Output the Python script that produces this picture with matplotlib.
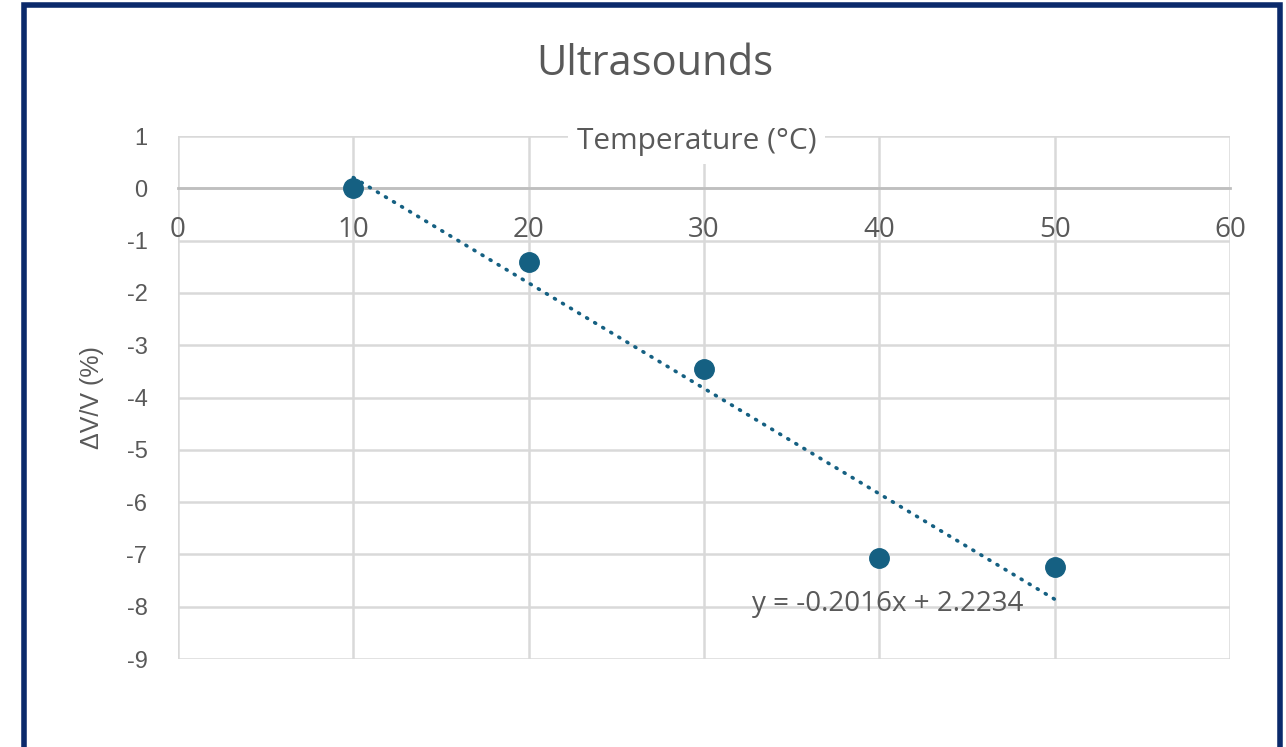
import matplotlib
matplotlib.use("Agg")
import matplotlib.pyplot as plt
import numpy as np
from matplotlib.patches import Rectangle

# data
temperature = [10, 20, 30, 40, 50]
dv_over_v = [0.0, -1.40, -3.46, -7.07, -7.25]
trend_slope = -0.2016
trend_intercept = 2.2234
x_ticks = [0, 10, 20, 30, 40, 50, 60]
y_ticks = [1, 0, -1, -2, -3, -4, -5, -6, -7, -8, -9]

POINT_COLOR = "#156082"
TEXT_COLOR = "#595959"
GRID_COLOR = "#d9d9d9"

plt.rcParams["font.family"] = ["Open Sans", "DejaVu Sans"]
plt.rcParams["axes.unicode_minus"] = False

fig = plt.figure(figsize=(12.86, 7.47), dpi=100)
ax = fig.add_axes([0.1384, 0.1178, 0.818, 0.700])

ax.set_xlim(0, 60)
ax.set_ylim(-9, 1)
ax.set_xticks(x_ticks)
ax.set_yticks(y_ticks)
ax.grid(True, color=GRID_COLOR, linewidth=1.8)
ax.set_axisbelow(True)

for side in ("top", "right", "left"):
    ax.spines[side].set_visible(False)
ax.spines["bottom"].set_position(("data", 0))
ax.spines["bottom"].set_color("#bfbfbf")
ax.spines["bottom"].set_linewidth(2)
ax.spines["bottom"].set_zorder(1)

ax.tick_params(axis="both", length=0, labelcolor=TEXT_COLOR)
ax.tick_params(axis="x", pad=20, labelsize=20)
ax.tick_params(axis="y", pad=22, labelsize=17)
for lbl in ax.get_yticklabels():
    lbl.set_family(["Liberation Sans", "DejaVu Sans"])

# trendline
xs = np.array([temperature[0], temperature[-1]])
ax.plot(xs, trend_slope * xs + trend_intercept, linestyle=(0, (0.3, 2.3)),
        color=POINT_COLOR, linewidth=2.6, dash_capstyle="round", zorder=3)
ax.plot(temperature, dv_over_v, "o", color=POINT_COLOR, markersize=14, zorder=4)

ax.text(40.5, -7.95, f"y = {trend_slope}x + {trend_intercept}", fontsize=20,
        color=TEXT_COLOR, ha="center", va="center", zorder=5)

ax.text(0.493, 0.99, "Temperature (°C)", transform=ax.transAxes, fontsize=21.5,
        color=TEXT_COLOR, ha="center", va="center", zorder=5,
        bbox=dict(facecolor="white", edgecolor="none", pad=6))

ax.set_ylabel("ΔV/V (%)", fontsize=18, color=TEXT_COLOR, labelpad=16,
              family=["Liberation Sans", "DejaVu Sans"])
fig.text(0.509, 0.914, "Ultrasounds", fontsize=30, color=TEXT_COLOR,
         ha="center", va="center")

# navy frame around the chart
fig.patches.append(Rectangle((24 / 1286, -0.05), 1256 / 1286, 1.0 - 5 / 747 + 0.05,
                             transform=fig.transFigure, fill=False,
                             edgecolor="#0b2a6b", linewidth=4))

fig.savefig("out.png", dpi=100)
